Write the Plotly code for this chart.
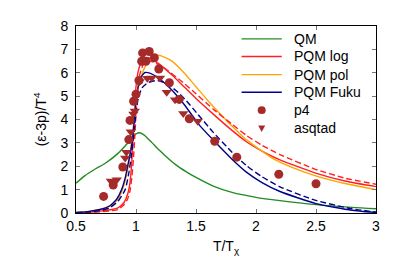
import plotly.graph_objects as go

# ---- data ----
qm_x = [0.5, 0.575, 0.65, 0.75, 0.85, 0.92, 0.97, 1.0, 1.03, 1.06, 1.1, 1.15, 1.2, 1.25, 1.33, 1.42, 1.5, 1.644, 1.8, 2.0, 2.2, 2.5, 2.8, 3.0]
qm_y = [1.27, 1.6, 1.85, 2.15, 2.55, 2.93, 3.22, 3.38, 3.43, 3.36, 3.18, 2.92, 2.66, 2.42, 2.07, 1.76, 1.52, 1.15, 0.88, 0.67, 0.53, 0.36, 0.24, 0.18]

log_x = [0.5, 0.6, 0.7, 0.8, 0.85, 0.9, 0.93, 0.95, 0.965, 0.98, 0.99, 1.0, 1.02, 1.05, 1.1, 1.2, 1.3, 1.4, 1.5, 1.644, 1.78, 1.92, 2.05, 2.2, 2.49, 2.75, 3.0]
log_y = [0.0, 0.03, 0.08, 0.15, 0.22, 0.45, 0.8, 1.3, 2.2, 3.6, 4.6, 5.4, 6.1, 6.5, 6.65, 6.35, 5.9, 5.4, 4.9, 4.23, 3.62, 3.05, 2.65, 2.27, 1.72, 1.36, 1.13]

logd_x = [0.5, 0.6, 0.7, 0.8, 0.85, 0.9, 0.93, 0.95, 0.965, 0.98, 0.99, 1.0, 1.01, 1.03, 1.06, 1.1, 1.15, 1.25, 1.4, 1.5, 1.644, 1.8, 1.92, 2.05, 2.2, 2.49, 2.75, 3.0]
logd_y = [0.0, 0.02, 0.05, 0.1, 0.15, 0.35, 0.6, 0.95, 1.5, 2.4, 3.3, 4.2, 5.0, 5.9, 6.35, 6.5, 6.45, 6.15, 5.55, 5.1, 4.44, 3.8, 3.32, 2.9, 2.5, 1.88, 1.48, 1.23]

pol_x = [0.5, 0.6, 0.7, 0.8, 0.85, 0.887, 0.92, 0.95, 0.975, 1.0, 1.033, 1.07, 1.12, 1.19, 1.3, 1.4, 1.5, 1.6, 1.7, 1.8, 1.9, 2.0, 2.158, 2.3, 2.49, 2.75, 3.0]
pol_y = [0.02, 0.07, 0.15, 0.35, 0.6, 1.0, 1.6, 2.5, 3.6, 4.8, 5.66, 6.2, 6.6, 6.75, 6.5, 6.0, 5.4, 4.8, 4.25, 3.72, 3.22, 2.83, 2.28, 1.95, 1.6, 1.25, 1.0]

fuku_x = [0.5, 0.6, 0.7, 0.78, 0.84, 0.88, 0.91, 0.93, 0.95, 0.97, 0.99, 1.01, 1.04, 1.075, 1.12, 1.2, 1.3, 1.4, 1.53, 1.644, 1.8, 1.92, 2.05, 2.2, 2.5, 2.8, 3.0]
fuku_y = [0.02, 0.06, 0.15, 0.3, 0.6, 1.0, 1.5, 2.0, 2.5, 3.1, 4.2, 5.2, 5.8, 6.01, 5.97, 5.72, 5.25, 4.65, 3.75, 3.12, 2.3, 1.75, 1.3, 0.92, 0.4, 0.12, 0.02]

fukud_x = [0.5, 0.6, 0.7, 0.78, 0.85, 0.91, 0.94, 0.96, 0.98, 1.0, 1.02, 1.05, 1.1, 1.18, 1.25, 1.33, 1.42, 1.506, 1.644, 1.8, 1.92, 2.05, 2.2, 2.49, 2.8, 3.0]
fukud_y = [0.01, 0.04, 0.1, 0.22, 0.5, 1.0, 1.7, 2.4, 3.3, 4.3, 4.95, 5.35, 5.58, 5.67, 5.55, 5.25, 4.8, 4.28, 3.45, 2.6, 2.03, 1.55, 1.12, 0.55, 0.18, 0.04]

p4_x = [0.73, 0.81, 0.89, 0.94, 0.95, 0.98, 1.00, 1.025, 1.047, 1.055, 1.083, 1.11, 1.153, 1.19, 1.278, 1.36, 1.444, 1.656, 1.84, 2.19, 2.5]
p4_y = [0.71, 1.2, 1.97, 3.14, 3.96, 4.78, 5.08, 5.67, 6.49, 6.85, 6.49, 6.91, 6.64, 6.16, 5.57, 4.86, 4.03, 3.07, 2.39, 1.66, 1.25]

asq_x = [0.79, 0.84, 0.91, 0.92, 0.956, 0.978, 0.99, 1.03, 1.094, 1.13, 1.20, 1.256, 1.325, 1.394, 1.514]
asq_y = [1.37, 1.42, 2.35, 2.6, 3.48, 4.23, 4.36, 5.63, 5.76, 5.78, 5.78, 5.17, 4.85, 4.26, 3.93]

x_ticks = [0.5, 1, 1.5, 2, 2.5, 3]
x_labels = ["0.5", "1", "1.5", "2", "2.5", "3"]
y_ticks = [0, 1, 2, 3, 4, 5, 6, 7, 8]

legend_names = ["QM", "PQM log", "PQM pol", "PQM Fuku", "p4", "asqtad"]

GREEN = "#228b22"
RED = "#ff2020"
ORANGE = "#ffa500"
BLUE = "#00008b"
BROWN = "#a52a2a"
LW = 1.4
DASH = "6px,3px"
SM = 0.5

fig = go.Figure()
fig.add_trace(go.Scatter(x=qm_x, y=qm_y, mode="lines", name="QM",
                         line=dict(color=GREEN, width=LW, shape="spline", smoothing=0.7)))
fig.add_trace(go.Scatter(x=log_x, y=log_y, mode="lines", name="PQM log",
                         line=dict(color=RED, width=LW, shape="spline", smoothing=SM)))
fig.add_trace(go.Scatter(x=pol_x, y=pol_y, mode="lines", name="PQM pol",
                         line=dict(color=ORANGE, width=LW, shape="spline", smoothing=SM)))
fig.add_trace(go.Scatter(x=fuku_x, y=fuku_y, mode="lines", name="PQM Fuku",
                         line=dict(color=BLUE, width=LW, shape="spline", smoothing=SM)))
fig.add_trace(go.Scatter(x=logd_x, y=logd_y, mode="lines", name="PQM log (2)",
                         line=dict(color=RED, width=LW, dash=DASH, shape="spline", smoothing=SM)))
fig.add_trace(go.Scatter(x=fukud_x, y=fukud_y, mode="lines", name="PQM Fuku (2)",
                         line=dict(color=BLUE, width=LW, dash=DASH, shape="spline", smoothing=SM)))
fig.add_trace(go.Scatter(x=p4_x, y=p4_y, mode="markers", name="p4",
                         marker=dict(color=BROWN, size=9, symbol="circle")))
fig.add_trace(go.Scatter(x=asq_x, y=asq_y, mode="markers", name="asqtad",
                         marker=dict(color=BROWN, size=9, symbol="triangle-down")))

FONT = "Liberation Sans, Arial, sans-serif"

# ---- hand-made legend (paper coordinates) ----
row_y = [0.931, 0.837, 0.740, 0.646, 0.550, 0.453]
line_colors = [GREEN, RED, ORANGE, BLUE]
lx0, lx1, tx = 0.552, 0.686, 0.719
mx = (lx0 + lx1) / 2
shapes = []
annotations = []
for i, name in enumerate(legend_names):
    yy = row_y[i]
    annotations.append(dict(x=tx, y=yy, xref="paper", yref="paper", text=name,
                            showarrow=False, xanchor="left", yanchor="middle",
                            font=dict(size=14, family=FONT, color="black")))
    if i < 4:
        shapes.append(dict(type="line", xref="paper", yref="paper",
                           x0=lx0, x1=lx1, y0=yy, y1=yy,
                           line=dict(color=line_colors[i], width=LW)))
rx, ry = 4.0 / 300, 4.0 / 195
shapes.append(dict(type="circle", xref="paper", yref="paper",
                   x0=mx - rx, x1=mx + rx, y0=row_y[4] - ry, y1=row_y[4] + ry,
                   fillcolor=BROWN, line=dict(color=BROWN, width=0)))
tw, th = 3.5 / 300, 3.0 / 195
ty = row_y[5]
shapes.append(dict(type="path", xref="paper", yref="paper",
                   path=f"M {mx - tw} {ty + th} L {mx + tw} {ty + th} L {mx} {ty - th * 1.3} Z",
                   fillcolor=BROWN, line=dict(color=BROWN, width=0)))

fig.update_layout(
    width=383, height=263,
    margin=dict(l=68, r=15, t=10, b=58),
    paper_bgcolor="white", plot_bgcolor="white",
    font=dict(family=FONT, size=14, color="black"),
    showlegend=False,
    shapes=shapes, annotations=annotations,
    xaxis=dict(range=[0.5, 3], tickvals=x_ticks, ticktext=x_labels,
               ticks="inside", ticklen=4, tickcolor="#777", mirror="ticks",
               showline=True, linecolor="black", linewidth=1, showgrid=False,
               zeroline=False, tickfont=dict(size=14),
               title=dict(text="T/T<sub>χ</sub>", font=dict(size=14), standoff=8)),
    yaxis=dict(range=[0, 8], tickvals=y_ticks,
               ticks="inside", ticklen=4, tickcolor="#777", mirror="ticks",
               showline=True, linecolor="black", linewidth=1, showgrid=False,
               zeroline=False, tickfont=dict(size=14), ticklabelstandoff=4,
               title=dict(text="(ε-3p)/T<sup>4</sup>", font=dict(size=14), standoff=10)),
)

fig.write_html("out.html")
